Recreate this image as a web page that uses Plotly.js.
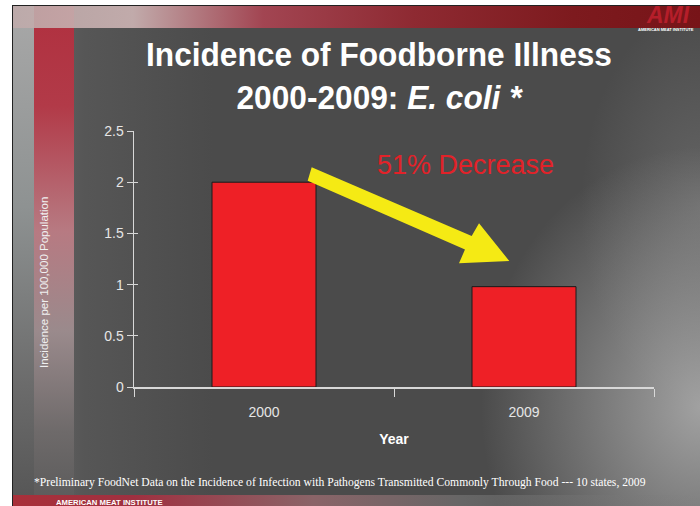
<!DOCTYPE html>
<html>
<head>
<meta charset="utf-8">
<script src="https://cdn.plot.ly/plotly-3.0.1.min.js"></script>
<style>
html,body{margin:0;padding:0;background:#fff;}
#wrap{position:relative;width:700px;height:506px;overflow:hidden;}
#slide{position:absolute;left:12px;top:5px;width:688px;height:501px;border-left:1px solid #222;border-top:1px solid #222;
background:
 radial-gradient(ellipse 220px 260px at 100% 80%, rgba(190,190,190,0.75), rgba(190,190,190,0) 100%),
 radial-gradient(ellipse 120px 200px at 100% 40%, rgba(150,150,150,0.35), rgba(150,150,150,0) 100%),
 linear-gradient(to right, rgba(160,160,160,0.45) 0px, rgba(120,120,120,0.25) 70px, rgba(75,75,75,0) 200px),
 #4b4b4b;}
#lstrip{position:absolute;left:0;top:0;width:21px;height:501px;
background:linear-gradient(to bottom,#a8a8a8 0%,#8e9292 40%,#6c6c6c 75%,#555 100%);}
#rstrip{position:absolute;left:21px;top:0;width:40px;height:501px;
background:linear-gradient(to bottom,#b0303f 0%,#b23a48 20%,#b77a82 45%,#9a8a8c 65%,#6e6a6a 85%,#5a5a5a 100%);}
#topband{position:absolute;left:0;top:0;width:688px;height:22px;
background:linear-gradient(to right,rgba(190,170,170,0.9) 0px,rgba(205,180,180,0.9) 120px,#a24552 250px,#8e2a32 400px,#7d1a1e 560px,#771418 688px);}
#botband{position:absolute;left:0;top:489px;width:688px;height:12px;
background:linear-gradient(to right,#a8303a 0px,#a03040 120px,#8a6468 300px,rgba(120,120,120,0.6) 450px,rgba(140,140,140,0) 688px);}
#chart{position:absolute;left:0;top:0;width:700px;height:506px;}
</style>
</head>
<body>
<div id="wrap">
 <div id="slide">
  <div id="lstrip"></div>
  <div id="rstrip"></div>
  <div id="topband"></div>
  <div id="botband"></div>
 </div>
 <div id="chart"></div>
</div>
<script>
const years = ["2000", "2009"];
const incidence = [2.0, 0.98];
const yTicks = [0, 0.5, 1, 1.5, 2, 2.5];
const yTickText = ["0", "0.5", "1", "1.5", "2", "2.5"];
const titleText = "Incidence of Foodborne Illness<br>2000-2009: <i>E. coli *</i>";
const yTitle = "Incidence per 100,000 Population";
const xTitle = "Year";
const changeLabel = "51% Decrease";
const footnote = "*Preliminary FoodNet Data on the Incidence of Infection with Pathogens Transmitted Commonly Through Food --- 10 states, 2009";
const footer = "AMERICAN MEAT INSTITUTE";

// plot area in pixels: x 134..654, y 131..387
const L = 134, R = 654, T = 131, B = 387;
const px = x => (x - L) / (R - L);
const py = y => (B - y) / (B - T);
const arrowPts = [[311.7,167.3],[471.7,236],[479,223.3],[509.3,261],[459,263.3],[465,249.5],[307.7,180.7]];
const arrowPath = "M" + arrowPts.map(p => px(p[0]).toFixed(4) + "," + py(p[1]).toFixed(4)).join(" L") + " Z";

const trace = {
  type: "bar",
  x: years,
  y: incidence,
  width: 0.4,
  marker: {color: "#ee2026", line: {color: "#1a1a1a", width: 1}},
  hoverinfo: "none"
};
const tickFont = {family: "Liberation Sans, Arial, sans-serif", size: 14, color: "#e6e6e6"};
const TITLE_CX = 379;
const layout = {
  width: 700, height: 506,
  margin: {l: L, r: 700 - R, t: T, b: 506 - B, pad: 0},
  paper_bgcolor: "rgba(0,0,0,0)",
  plot_bgcolor: "rgba(0,0,0,0)",
  showlegend: false,
  title: {
    text: titleText,
    x: TITLE_CX/700, xanchor: "center",
    y: 1 - 66/506, yanchor: "top",
    yref: "container",
    font: {family: "Liberation Sans, Arial, sans-serif", size: 33, color: "#ffffff", weight: "bold"}
  },
  xaxis: {
    type: "category",
    tickson: "boundaries",
    ticks: "outside", ticklen: 8, tickcolor: "#d8d8d8", tickwidth: 1,
    showline: true, linecolor: "#d8d8d8", linewidth: 1.5,
    showgrid: false, zeroline: false,
    ticklabelstandoff: 12,
    tickfont: tickFont,
    title: {text: xTitle, standoff: 15, font: {family: "Liberation Sans, Arial, sans-serif", size: 14, color: "#ffffff", weight: "bold"}}
  },
  yaxis: {
    range: [0, 2.5],
    tickvals: yTicks, ticktext: yTickText,
    ticks: "outside", ticklen: 6, tickcolor: "#d8d8d8", tickwidth: 1,
    showline: true, linecolor: "#d8d8d8", linewidth: 1.5,
    showgrid: false, zeroline: false,
    tickfont: tickFont
  },
  yaxis2: {
    overlaying: "y", side: "left", range: [0, 2.5],
    tickvals: yTicks, showticklabels: false,
    ticks: "inside", ticklen: 4, tickcolor: "#d8d8d8", tickwidth: 1,
    showline: false, showgrid: false, zeroline: false
  },
  shapes: [
    {type: "path", xref: "paper", yref: "paper", path: arrowPath,
     fillcolor: "#f5ea14", line: {width: 0}, layer: "above"}
  ],
  annotations: [
    {text: yTitle, xref: "paper", yref: "paper", x: px(44), y: py(283), textangle: -90,
     xanchor: "center", yanchor: "middle", showarrow: false,
     font: {family: "Liberation Sans, Arial, sans-serif", size: 11.5, color: "#f0f0f0"}},
    {text: changeLabel, xref: "paper", yref: "paper", x: px(465), y: py(165),
     xanchor: "center", yanchor: "middle", showarrow: false,
     font: {family: "Liberation Sans, Arial, sans-serif", size: 27, color: "#e22229"}},
    {text: footnote, xref: "paper", yref: "paper", x: px(32), y: py(482),
     xanchor: "left", yanchor: "middle", showarrow: false,
     font: {family: "Liberation Serif, Times New Roman, serif", size: 11.65, color: "#ffffff"}},
    {text: footer, xref: "paper", yref: "paper", x: px(54), y: py(502),
     xanchor: "left", yanchor: "middle", showarrow: false,
     font: {family: "Liberation Sans, Arial, sans-serif", size: 7.7, color: "#ffffff", weight: "bold"}},
    {text: "<i>AMI</i>", xref: "paper", yref: "paper", x: px(668), y: py(15),
     xanchor: "center", yanchor: "middle", showarrow: false,
     font: {family: "Liberation Sans, Arial, sans-serif", size: 23, color: "#b51e2a", weight: "bold"}},
    {text: "AMERICAN MEAT INSTITUTE", xref: "paper", yref: "paper", x: px(666), y: py(29),
     xanchor: "center", yanchor: "middle", showarrow: false,
     font: {family: "Liberation Sans, Arial, sans-serif", size: 4, color: "#ffffff", weight: "bold"}}
  ]
};
const overlayTrace = {type: "scatter", x: [], y: [], yaxis: "y2", hoverinfo: "none"};
Plotly.newPlot("chart", [trace, overlayTrace], layout, {displayModeBar: false, staticPlot: true}).then(gd => {
  // condense the title horizontally to mimic the narrow slide typeface
  const t = gd.querySelector(".gtitle");
  if (t) {
    const bb = t.getBBox();
    const targetW = 466;
    const s = Math.min(1, targetW / bb.width);
    t.setAttribute("transform", "translate(" + TITLE_CX + ",0) scale(" + s + ",1) translate(" + (-TITLE_CX) + ",0)");
  }
});
</script>
</body>
</html>
